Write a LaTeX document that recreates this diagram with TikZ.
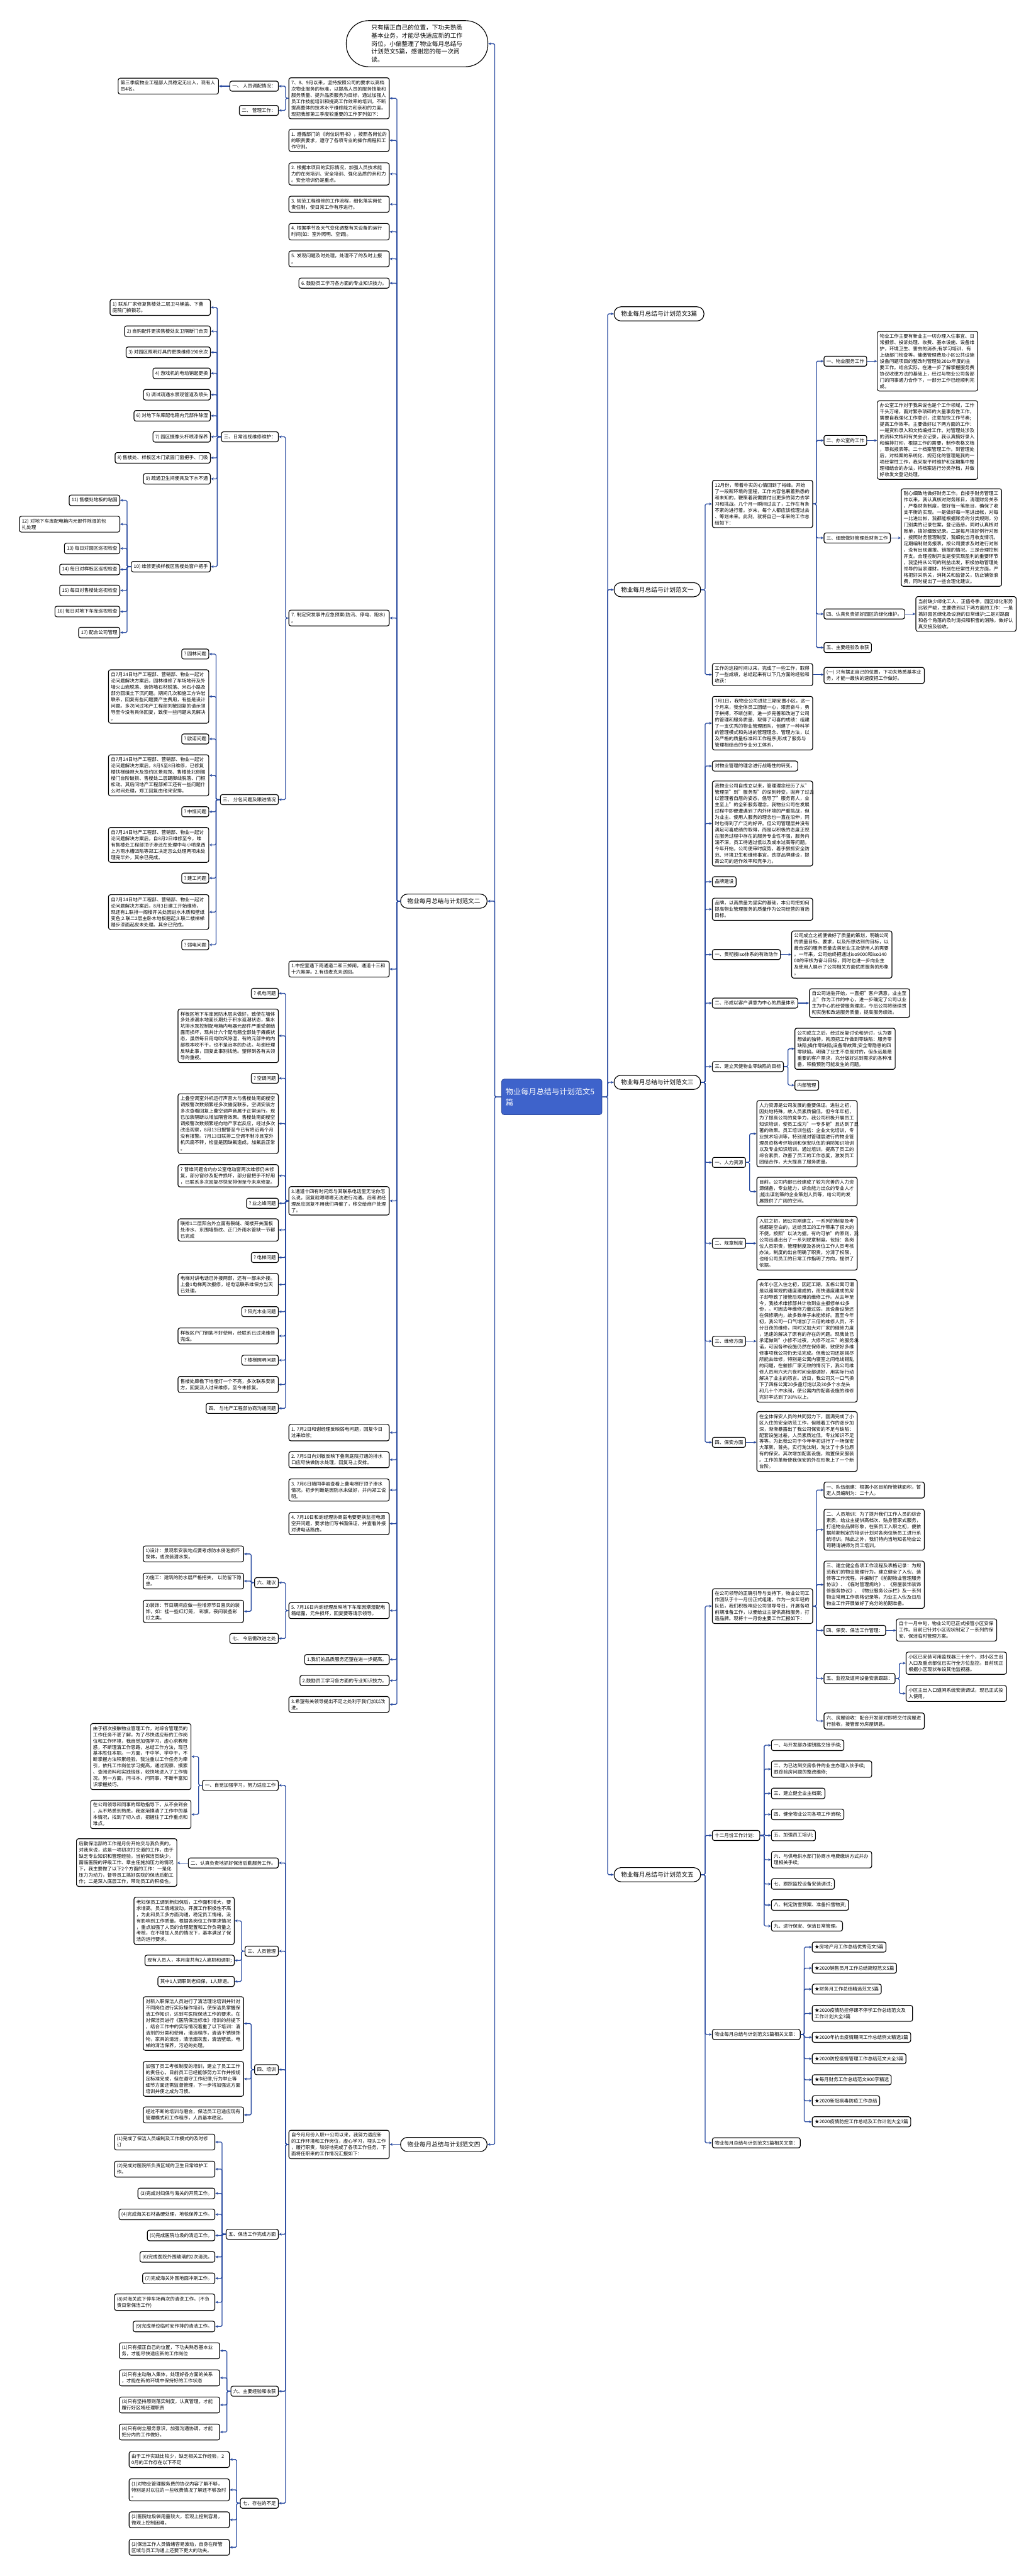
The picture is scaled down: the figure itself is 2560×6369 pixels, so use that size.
\documentclass[tikz,border=0pt]{standalone}
\usepackage{fontspec}
\setmainfont{Noto Sans CJK SC}
\usetikzlibrary{arrows.meta}
\definecolor{linkblue}{RGB}{40,74,160}
\definecolor{rootblue}{RGB}{62,99,203}
\newcommand\fsA{\fontsize{11.7pt}{15.5pt}\selectfont}
\newcommand\fsB{\fontsize{15pt}{20pt}\selectfont}
\newcommand\fsC{\fontsize{19pt}{26pt}\selectfont}
\newcommand\LinkL[3]{\draw[conn] (#1.west) -- (#3,0 |- #1.west) |- (#2.east);}
\newcommand\LinkR[3]{\draw[conn] (#1.east) -- (#3,0 |- #1.east) |- (#2.west);}
\newcommand\LinkSL[2]{\draw[conn] (#1.west) -- (#2.east |- #1.west);}
\newcommand\LinkSR[2]{\draw[conn] (#1.east) -- (#2.west |- #1.east);}
\tikzset{
 boxbase/.style={draw=black, line width=1.8pt, fill=white, rounded corners=5pt, font=\fsA, inner xsep=6pt, inner ysep=7pt},
 para/.style={boxbase, text width=236pt, align=left, inner ysep=6.5pt},
 lbl/.style={boxbase, align=left},
 pill/.style={draw=black, line width=1.8pt, fill=white, rounded corners=17pt, font=\fsB, inner xsep=17pt, inner ysep=0pt, minimum height=35pt},
 topnode/.style={draw=black, line width=1.8pt, fill=white, rounded corners=55pt, font=\fsB, align=left, text width=226pt, inner xsep=62pt, inner ysep=10pt},
 rootnode/.style={draw=rootblue!80!black, line width=1.5pt, fill=rootblue, text=white, rounded corners=6pt, font=\fsC, align=left, text width=228pt, inner xsep=10pt, inner ysep=22pt},
 conn/.style={draw=linkblue, line width=2pt, rounded corners=3pt, -{Stealth[length=7pt,width=6.5pt]}},
}
\begin{document}
\begin{tikzpicture}[x=1pt,y=-1pt]
\fill[white] (0,0) rectangle (2560,6369);
\useasboundingbox (0,0) rectangle (2560,6369);

% ---------------- root and top ----------------
\node[rootnode] (root) at (1364,2712) {物业每月总结与计划范文5\\篇};
\node[topnode] (top) at (1031,108) {只有摆正自己的位置，下功夫熟悉\\基本业务，才能尽快适应新的工作\\岗位，小偏整理了物业每月总结与\\计划范文5篇，感谢您的每一次阅\\读。};

% ---------------- left branches ----------------
\node[pill,anchor=east] (b2) at (1205,2228) {物业每月总结与计划范文二};
\node[pill,anchor=east] (b4) at (1205,5302) {物业每月总结与计划范文四};
\LinkL{root}{top}{1223}
\LinkL{root}{b2}{1223}
\LinkL{root}{b4}{1223}

% children of 范文二
\node[para,anchor=east] (a1) at (963,243) {7、8、9月以来，坚持按照公司的要求以高档\\次物业服务的标准，以提高人员的服务技能和\\服务质量、提升品质服务为目标，通过加强人\\员工作技能培训和提高工作效率的培训，不断\\提高整体的技术水平维修能力和亲和的力度。\\现把我部第三季度较重要的工作罗列如下：};
\node[para,anchor=east] (a2) at (963,347) {1.~遵循部门的《岗位说明书》，按照各岗位的\\的职责要求，遵守了各项专业的操作规程和工\\作守则。};
\node[para,anchor=east] (a3) at (963,430) {2.~根据本项目的实际情况，加强人员技术能\\力的在岗培训、安全培训、强化品质的亲和力\\。安全培训仍是重点。};
\node[para,anchor=east] (a4) at (963,505) {3.~规范工程维修的工作流程，细化落实岗位\\责任制，使日常工作有序进行。};
\node[para,anchor=east] (a5) at (963,573) {4.~根据季节及天气变化调整有关设备的运行\\时间(如：室外照明、空调)。};
\node[para,anchor=east] (a6) at (963,640) {5.~发现问题及时处理，处理不了的及时上报\\。};
\node[lbl,anchor=east] (a7) at (963,700) {6.~鼓励员工学习各方面的专业知识技力。};
\node[para,anchor=east] (a8) at (963,1528) {7.~制定突发事件应急预案(防汛、停电、跑水)\\。};
\node[para,anchor=east] (a9) at (963,2396) {1.中控室遇下雨通道二和三掉闸，通道十三和\\十六黑屏。2.有线麦克未送回。};
\node[para,anchor=east] (a10) at (963,2969) {3.通道十四有时闪烁与其联系电话里无论你怎\\么说，回复就嗯嗯嗯无法进行沟通。后和谢经\\理反应回复不用我们再催了，移交给商户处理\\了。};
\node[para,anchor=east] (a11) at (963,3542) {1.~7月2日和谢经理反映弱电问题，回复今日\\过来维修;};
\node[para,anchor=east] (a12) at (963,3609) {2.~7月5日向刘敏反映下叠南庭院打通的排水\\口应尽快做防水处理，回复马上安排。};
\node[para,anchor=east] (a13) at (963,3684) {3.~7月6日随同李岩查看上叠电梯厅顶子渗水\\情况，初步判断是因防水未做好，并向郑工说\\明。};
\node[para,anchor=east] (a14) at (963,3767) {4.~7月10日和谢经理协商弱电要更换监控电源\\空开问题，要求他们写书面保证，并查看外接\\对讲电话路由。};
\node[para,anchor=east] (a15) at (963,3982) {5.~7月16日向谢经理反映地下车库因潮湿配电\\箱结露，元件损坏，回复要等请示领导。};
\node[lbl,anchor=east] (a16) at (963,4103) {1.我们的品质服务还望在进一步提高。};
\node[lbl,anchor=east] (a17) at (963,4155) {2.鼓励员工学习各方面的专业知识技力。};
\node[para,anchor=east] (a18) at (963,4214) {3.希望有关领导提出不足之处利于我们加以改\\进。};
\foreach \c in {a1,a2,a3,a4,a5,a6,a7,a8,a9,a10,a11,a12,a13,a14,a15,a16,a17,a18}{\LinkL{b2}{\c}{981}}

% a1 children
\node[lbl,anchor=east] (c1) at (689,213) {一、~人员调配情况：};
\node[lbl,anchor=east] (c2) at (689,273) {二、~管理工作：};
\LinkL{a1}{c1}{706}
\LinkL{a1}{c2}{706}
\node[para,anchor=east] (c1a) at (541,213) {第三季度物业工程部人员稳定无出入，现有人\\员4名。};
\LinkSL{c1}{c1a}

% a8 children
\node[lbl,anchor=east] (d1) at (689,1080) {三、日常巡视维修维护：};
\node[lbl,anchor=east] (d2) at (689,1977) {三、~分包问题及跟进情况};
\LinkL{a8}{d1}{706}
\LinkL{a8}{d2}{706}

\node[para,anchor=east] (e1) at (521,760) {1)~联系厂家修复售楼处二层卫马桶盖、下叠\\庭院门换锁芯。};
\node[lbl,anchor=east] (e2) at (521,819) {2)~自购配件更换售楼处女卫隔断门合页};
\node[lbl,anchor=east] (e3) at (521,871) {3)~对园区照明灯具的更换维修190余次};
\node[lbl,anchor=east] (e4) at (521,923) {4)~游戏机的电动销起更换};
\node[lbl,anchor=east] (e5) at (521,976) {5)~调试疏通水景观管道及喷头};
\node[lbl,anchor=east] (e6) at (521,1028) {6)~对地下车库配电箱内元部件除湿};
\node[lbl,anchor=east] (e7) at (521,1080) {7)~园区摄像头杆喷漆保养};
\node[lbl,anchor=east] (e8) at (521,1132) {8)~售楼处、样板区木门紧固门窗把手、门吸};
\node[lbl,anchor=east] (e9) at (521,1184) {9)~疏通卫生间便具及下水不通};
\node[lbl,anchor=east] (e10) at (521,1401) {10)~维修更换样板区售楼处窗户把手};
\foreach \c in {e1,e2,e3,e4,e5,e6,e7,e8,e9,e10}{\LinkL{d1}{\c}{537}}

\node[lbl,anchor=east] (f1) at (297,1237) {11)~售楼处地板的粘固};
\node[para,anchor=east] (f2) at (297,1296) {12)~对地下车库配电箱内元部件除湿的包\\扎处理};
\node[lbl,anchor=east] (f3) at (297,1356) {13)~每日对园区巡视检查};
\node[lbl,anchor=east] (f4) at (297,1408) {14)~每日对样板区巡视检查};
\node[lbl,anchor=east] (f5) at (297,1460) {15)~每日对售楼处巡视检查};
\node[lbl,anchor=east] (f6) at (297,1512) {16)~每日对地下车库巡视检查};
\node[lbl,anchor=east] (f7) at (297,1564) {17)~配合公司管理};
\foreach \c in {f1,f2,f3,f4,f5,f6,f7}{\LinkL{e10}{\c}{314}}

\node[lbl,anchor=east] (g1) at (517,1617) {?~园林问题};
\node[para,anchor=east] (g2) at (517,1722) {自7月24日地产工程部、营销部、物业一起讨\\论问题解决方案后，园林维修了车场地砖及外\\墙火山岩脱落、装饰墙石材脱落、米石小路及\\部分回填土下沉问题。期间几次和施工方许岩\\联系，回复有些问题要产生费用，有些是设计\\问题。多次问过地产工程部刘敏回复的请示领\\导至今没有具体回复，致使一些问题未见解决\\。};
\node[lbl,anchor=east] (g3) at (517,1827) {?~欧诺问题};
\node[para,anchor=east] (g4) at (517,1917) {自7月24日地产工程部、营销部、物业一起讨\\论问题解决方案后，8月5至8日维修，已修复\\楼扶梯缝隙大及签约区景观泵、售楼处北侧阁\\楼门台阶破损、售楼处二层踢脚线脱落、门框\\松动。其后问地产工程部郑工还有一些问题什\\么时间处理，郑工回复由他来安排。};
\node[lbl,anchor=east] (g5) at (517,2007) {?~中恒问题};
\node[para,anchor=east] (g6) at (517,2089) {自7月24日地产工程部、营销部、物业一起讨\\论问题解决方案后，自8月2日维修至今，唯\\有售楼处工程部顶子渗还在处理中与小喷泉西\\上方雨水槽凹陷等郑工决定怎么处理两项未处\\理完毕外，其余已完成。};
\node[lbl,anchor=east] (g7) at (517,2171) {?~建工问题};
\node[para,anchor=east] (g8) at (517,2255) {自7月24日地产工程部、营销部、物业一起讨\\论问题解决方案后，8月3日建工开始维修，\\现还有1.联排一阁楼开关处因进水木质和壁纸\\变色;2.联二2层主卧木地板翘起;3.联二楼梯梯\\踏步漆面起皮未处理。其余已完成。};
\node[lbl,anchor=east] (g9) at (517,2336) {?~弱电问题};
\foreach \c in {g1,g2,g3,g4,g5,g6,g7,g8,g9}{\LinkL{d2}{\c}{534}}

% a10 children
\node[lbl,anchor=east] (h1) at (689,2456) {?~机电问题};
\node[para,anchor=east] (h2) at (689,2561) {样板区地下车库因防水层未做好，致使在墙体\\多处渗漏水地面长期处于积水返潮状态，集水\\坑排水泵控制配电箱内电器元部件严重受潮结\\露而损坏，现共计六个配电箱全部处于瘫痪状\\态，虽然每日用电吹风除湿，有的元部件的内\\部根本吹不干，也不是治本的办法。与谢经理\\反映此事，回复此事别找他。望得到各有关领\\导的重视。};
\node[lbl,anchor=east] (h3) at (689,2666) {?~空调问题};
\node[para,anchor=east] (h4) at (689,2778) {上叠空调室外机运行声音大与售楼处南阁楼空\\调报警次数频繁经多次催促联系，空调安装方\\多次查看回复上叠空调声音属于正常运行。现\\已加装隔断以增加隔音效果。售楼处南阁楼空\\调报警次数频繁经向地产李岩反应，经过多次\\改造观察，8月13日报警至今已有将近两个月\\没有报警。7月13日联排二空调不制冷且室外\\机风扇不转，检查是因缺氟造成，加氟后正常\\。};
\node[para,anchor=east] (h5) at (689,2907) {?~普维问题合约办公室电动窗两次维修仍未修\\复，部分窗纱及配件损坏，部分窗把手不好用\\，已联系多次回复尽快安排但至今未来修复。};
\node[lbl,anchor=east] (h6) at (689,2975) {?~业之峰问题};
\node[para,anchor=east] (h7) at (689,3041) {联排1二层阳台外立面有裂缝、阁楼开关面板\\处渗水、东围墙裂纹、正门外雨水管缺一节都\\已完成};
\node[lbl,anchor=east] (h8) at (689,3109) {?~电梯问题};
\node[para,anchor=east] (h9) at (689,3176) {电梯对讲电话已外接两部，还有一部未外接。\\上叠1电梯两次报修，经电话联系维保方当天\\已处理。};
\node[lbl,anchor=east] (h10) at (689,3243) {?~阳光木业问题};
\node[para,anchor=east] (h11) at (689,3303) {样板区户门钥匙不好使用，经联系已过来维修\\完成。};
\node[lbl,anchor=east] (h12) at (689,3363) {?~楼梯照明问题};
\node[para,anchor=east] (h13) at (689,3423) {售楼处廊檐下地埋灯一个不亮，多次联系安装\\方，回复派人过来维修，至今未修复。};
\node[lbl,anchor=east] (h14) at (689,3482) {四、~与地产工程部协商沟通问题};
\foreach \c in {h1,h2,h3,h4,h5,h6,h7,h8,h9,h10,h11,h12,h13,h14}{\LinkL{a10}{\c}{706}}

% a15 children
\node[lbl,anchor=east] (i1) at (689,3913) {六、建议};
\node[lbl,anchor=east] (i2) at (689,4051) {七、~今后需改进之处};
\LinkL{a15}{i1}{706}
\LinkL{a15}{i2}{706}
\node[para,anchor=east] (j1) at (603,3842) {1)设计：景观泵安装地点要考虑防水侵泡损坏\\泵体，或改装潜水泵。};
\node[para,anchor=east] (j2) at (603,3909) {2)施工：建筑的防水层严格把关，~以防留下隐\\患。};
\node[para,anchor=east] (j3) at (603,3984) {3)装饰：节日期间应做一些增添节日喜庆的装\\饰，如：挂一些红灯笼，~彩旗。夜间装些彩\\灯之类。};
\foreach \c in {j1,j2,j3}{\LinkL{i1}{\c}{621}}

% ---------------- 范文四 ----------------
\node[para,anchor=east] (k0) at (963,5302) {自今月月份入职++公司以来，我努力适应新\\的工作环境和工作岗位，虚心学习，埋头工作\\，履行职责，较好地完成了各项工作任务，下\\面将任职来的工作情况汇报如下：};
\LinkSL{b4}{k0}
\node[lbl,anchor=east] (k1) at (689,4414) {一、自觉加强学习，努力适应工作};
\node[lbl,anchor=east] (k2) at (689,4606) {二、认真负责地抓好保洁后勤服务工作。};
\node[lbl,anchor=east] (k3) at (689,4824) {三、人员管理};
\node[lbl,anchor=east] (k4) at (689,5117) {四、培训};
\node[lbl,anchor=east] (k5) at (689,5524) {五、保洁工作完成方面};
\node[lbl,anchor=east] (k6) at (689,5912) {六、主要经验和收获};
\node[lbl,anchor=east] (k7) at (689,6189) {七、存在的不足};
\foreach \c in {k1,k2,k3,k4,k5,k6,k7}{\LinkL{k0}{\c}{706}}

\node[para,anchor=east] (l1) at (473,4343) {由于初次接触物业管理工作，对综合管理员的\\工作任务不甚了解，为了尽快适应新的工作岗\\位和工作环境，我自觉加强学习，虚心求教释\\惑，不断理清工作思路，总结工作方法，现已\\基本胜任本职。一方面，干中学、学中干，不\\断掌握方法积累经验。我注重以工作任务为牵\\引，依托工作岗位学习提高，通过观察、摸索\\、查阅资料和实践锻炼，较快地进入了工作情\\况。另一方面，问书本、问同事，不断丰富知\\识掌握技巧。};
\node[para,anchor=east] (l2) at (473,4486) {在公司领导和同事的帮助指导下，从不会到会\\，从不熟悉到熟悉，我逐渐摸清了工作中的基\\本情况，找到了切入点，把握住了工作重点和\\难点。};
\LinkL{k1}{l1}{491}
\LinkL{k1}{l2}{491}
\node[para,anchor=east] (m1) at (438,4605) {后勤保洁部的工作是月份开始交与我负责的，\\对我来说，这是一项初次打交道的工作，由于\\缺乏专业知识和管理经验，当前保洁员缺少，\\面临医院的评级工作、章主任施加压力的情况\\下，我主要做了以下2个方面的工作：一是化\\压力为动力，督导员工搞好医院的保洁后勤工\\作；二是深入底层工作，带动员工的积极性。};
\LinkSL{k2}{m1}

\node[para,anchor=east] (n1) at (580,4749) {老妇保员工调到新妇保后，工作面积增大，要\\求增高。员工情绪波动，开展工作积极性不高\\，为此和员工多方面沟通，稳定员工情绪，没\\有影响到工作质量。根据各岗位工作需求情况\\，重点加强了人员的合理配置和工作负荷量之\\考核，在不增加人员的情况下，基本满足了保\\洁的运行要求。};
\node[lbl,anchor=east] (n2) at (580,4847) {现有人员人，本月度共有2人离职和调职;};
\node[lbl,anchor=east] (n3) at (580,4899) {其中1人调职到老妇保，1人辞退。};
\foreach \c in {n1,n2,n3}{\LinkL{k3}{\c}{597}}

\node[para,anchor=east] (o1) at (603,5003) {对新入职保洁人员进行了清洁理论培训并针对\\不同岗位进行实际操作培训，使保洁员掌握保\\洁工作知识，达到写医院保洁工作的要求。在\\对保洁员进行《医院保洁标准》培训的前提下\\，结合工作中的实际情况着重了以下培训：清\\洁剂的分类和使用，清洁程序，清洁不锈钢饰\\物，家具的清洁，清洁烟灰盅，清洁壁纸，电\\梯的清洁保养，污迹的处理。};
\node[para,anchor=east] (o2) at (603,5140) {加强了员工考核制度的培训，建立了员工工作\\的责任心，目前员工已经能够努力工作并按规\\定标准完成，但在遵守工作纪律,行为举止等\\细节方面还需监督管理，下一步将加强这方面\\培训并使之成为习惯。};
\node[para,anchor=east] (o3) at (603,5229) {经过不断的培训与磨合，保洁员工已适应现有\\管理模式和工作程序，人员基本稳定。};
\foreach \c in {o1,o2,o3}{\LinkL{k4}{\c}{621}}

\node[para,anchor=east] (p1) at (532,5296) {(1)完成了保洁人员编制及工作模式的及时修\\订};
\node[para,anchor=east] (p2) at (532,5363) {(2)完成对医院所负责区域的卫生日常维护工\\作。};
\node[lbl,anchor=east] (p3) at (532,5423) {(3)完成对妇保与海关的开荒工作。};
\node[lbl,anchor=east] (p4) at (532,5475) {(4)完成海关石材晶硬处理，地毯保养工作。};
\node[lbl,anchor=east] (p5) at (532,5527) {(5)完成医院垃圾的清运工作。};
\node[lbl,anchor=east] (p6) at (532,5580) {(6)完成医院外围玻璃的2次清洗。};
\node[lbl,anchor=east] (p7) at (532,5633) {(7)完成海关外围地面冲刷工作。};
\node[para,anchor=east] (p8) at (532,5692) {(8)对海关底下停车场两次的清洗工作。(不负\\责日常保洁工作)};
\node[lbl,anchor=east] (p9) at (532,5752) {(9)完成单位临时安作排的清洁工作。};
\foreach \c in {p1,p2,p3,p4,p5,p6,p7,p8,p9}{\LinkL{k5}{\c}{549}}

\node[para,anchor=east] (q1) at (544,5812) {(1)只有摆正自己的位置，下功夫熟悉基本业\\务，才能尽快适应新的工作岗位};
\node[para,anchor=east] (q2) at (544,5879) {(2)只有主动融入集体，处理好各方面的关系\\，才能在新的环境中保持好的工作状态};
\node[para,anchor=east] (q3) at (544,5946) {(3)只有坚持原则落实制度，认真管理，才能\\履行好区域经理职责};
\node[para,anchor=east] (q4) at (544,6013) {(4)只有树立服务意识，加强沟通协调，才能\\把分内的工作做好。};
\foreach \c in {q1,q2,q3,q4}{\LinkL{k6}{\c}{561}}

\node[para,anchor=east] (r1) at (568,6081) {由于工作实践比较少，缺乏相关工作经验，2\\0月的工作存在以下不足};
\node[para,anchor=east] (r2) at (568,6156) {(1)对物业管理服务费的协议内容了解不够，\\特别是对以往的一些收费情况了解还不够及时\\。};
\node[para,anchor=east] (r3) at (568,6230) {(2)医院垃圾袋用量较大，宏观上控制容易，\\微观上控制困难。};
\node[para,anchor=east] (r4) at (568,6298) {(3)保洁工作人员情绪容易波动，自身在所管\\区域与员工沟通上还要下更大的功夫。};
\foreach \c in {r1,r2,r3,r4}{\LinkL{k7}{\c}{585}}

% ---------------- right branches ----------------
\node[pill,anchor=west] (s0) at (1517,776) {物业每月总结与计划范文3篇};
\node[pill,anchor=west] (s1) at (1517,1458) {物业每月总结与计划范文一};
\node[pill,anchor=west] (s3) at (1517,2676) {物业每月总结与计划范文三};
\node[pill,anchor=west] (s5) at (1517,4635) {物业每月总结与计划范文五};
\foreach \c in {s0,s1,s3,s5}{\LinkR{root}{\c}{1502}}

% 范文一
\node[para,anchor=west] (t1) at (1760,1246) {12月份，带着朴实的心情回到了裕峰。开始\\了一段新环境的里程，工作内容包裹着熟悉的\\和未知的，鞭策着我需要付出更多的努力去学\\习和挑战。几个月一瞬间过去了，工作在有条\\不紊的进行着。岁末，每个人都应该梳理过去\\、筹划未来。此刻，就将自己一年来的工作总\\结如下：};
\node[para,anchor=west] (t2) at (1760,1668) {工作的这段时间以来，完成了一些工作，取得\\了一些成绩，总结起来有以下几方面的经验和\\收获：};
\LinkR{s1}{t1}{1743}
\LinkR{s1}{t2}{1743}
\node[lbl,anchor=west] (u1) at (2036,893) {一、物业服务工作};
\node[lbl,anchor=west] (u2) at (2036,1089) {二、办公室的工作};
\node[lbl,anchor=west] (u3) at (2036,1330) {三、细致做好管理处财务工作};
\node[lbl,anchor=west] (u4) at (2036,1518) {四、认真负责抓好园区的绿化维护。};
\node[lbl,anchor=west] (u5) at (2036,1601) {五、主要经验及收获};
\foreach \c in {u1,u2,u3,u4,u5}{\LinkR{t1}{\c}{2018}}
\node[para,anchor=west] (u1c) at (2168,893) {物业工作主要有新业主一切办理入住事宜、日\\常报修、投诉处理、收费、基本设施、设备维\\护，环境卫生、害虫的消杀;有学习培训、有\\上级部门检查等。催缴管理费及小区公共设施\\设备问题项目的整改时管理处201x年度的主\\要工作。结合实际，在进一步了解掌握服务费\\协议收缴方法的基础上，经过与物业公司各部\\门的同事通力合作下，一部分工作已经顺利完\\成。};
\node[para,anchor=west] (u2c) at (2168,1088) {办公室工作对于我来说也是个工作领域，工作\\千头万绪，面对繁杂琐碎的大量事务性工作，\\需要自我强化工作意识，注意加快工作节奏;\\提高工作效率。主要做好以下两方面的工作：\\一是资料录入和文档编排工作。对管理处涉及\\的资料文档和有关会议记录，我认真搞好录入\\和编排打印，根据工作的需要，制作表格文档\\，草拟报表等。二十档案管理工作。到管理处\\后，对档案的系统化、规范化的管理是我的一\\项经常性工作，我采取平时维护和定期集中整\\理相结合的办法，将档案进行分类存档，并做\\好收发文登记处理。};
\node[para,anchor=west] (u3c) at (2227,1329) {耐心细致地做好财务工作。自接手财务管理工\\作以来，我认真核对财务账目，清理财务关系\\，严格财务制度，做好每一笔账目，确保了收\\支平衡的实现。一是做好每一笔进出帐，对每\\一比进出帐，我都能根据账务的分类规则，分\\门别类的记录在案，登记造册。同时认真核对\\账单，搞好细致记录。二是每月搞好例行对账\\。按照财务管理制度，我细化当月收支情况，\\定期编制财务报表，按公司要求及时进行对账\\，没有出现漏报、错报的情况。三是合理控制\\开支。合理控制开支是使实现盈利的重要环节\\，我坚持从公司的利益出发，积极协助管理处\\领导的当家理财。特别在经常性开支方面，严\\格把好采购关，消耗关和监督关，防止铺张浪\\费，同时提出了一些合理化建议。};
\node[para,anchor=west] (u4c) at (2263,1518) {当前缺少绿化工人，正值冬季，园区绿化形势\\比较严峻，主要做到以下两方面的工作：一是\\搞好园区绿化及设施的日常维护;二是对路面\\和各个角落的及时清扫和积雪的消除，做好认\\真交接及验收。};
\LinkSR{u1}{u1c}
\LinkSR{u2}{u2c}
\LinkSR{u3}{u3c}
\LinkSR{u4}{u4c}
\node[para,anchor=west] (v1) at (2036,1670) {(一)~只有摆正自己的位置，下功夫熟悉基本业\\务，才能一最快的速度把工作做好。};
\LinkSR{t2}{v1}

% 范文三
\node[para,anchor=west] (w1) at (1760,1788) {7月1日，我物业公司进驻三期安置小区，这一\\个月来，我全体员工团结一心，艰苦奋斗，勇\\于拼搏，不断创新，进一步完善和改进了公司\\的管理和服务质量，取得了可喜的成绩：组建\\了一支优秀的物业管理团队，创建了一种科学\\的管理模式和先进的管理理念、管理方法，以\\及严格的质量标准和工作程序;形成了服务与\\管理相结合的专业分工体系。};
\node[lbl,anchor=west] (w2) at (1760,1894) {对物业管理的理念进行战略性的转变。};
\node[para,anchor=west] (w3) at (1760,2036) {我物业公司自成立以来，管理理念经历了从"\\管理型"到"服务型"的深刻转变，抛弃了过去\\以管理者自居的姿态，倡导了"服务育人，业\\主至上"的全新服务理念。我物业公司在发展\\过程中即便遭遇到了内外环境的严重挑战，但\\为业主、使用人服务的理念也一直在沿伸，同\\时也得到了广泛的好评。但公司管理层并没有\\满足可喜成绩的取得，而是以积极的态度正视\\在服务过程中存在的服务专业性不强，服务内\\涵不深，员工待遇过低以及成本过高等问题。\\今年开始，公司便审时度势，着手狠抓安全防\\范、环境卫生和维修事宜，劲拼品牌建设，提\\高公司的运作效率和竞争力。};
\node[lbl,anchor=west] (w4) at (1760,2180) {品牌建设};
\node[para,anchor=west] (w5) at (1760,2248) {品牌，以高质量为坚实的基础，本公司把如何\\提高物业管理服务的质量作为公司经营的首选\\目标。};
\node[lbl,anchor=west] (w6) at (1760,2360) {一、贯彻按iso体系的有效动作};
\node[lbl,anchor=west] (w7) at (1760,2480) {二、形成以客户满意为中心的质量体系};
\node[lbl,anchor=west] (w8) at (1760,2637) {三、建立天健物业零缺陷的目标};
\node[lbl,anchor=west] (w9) at (1760,2874) {一、人力资源};
\node[lbl,anchor=west] (w10) at (1760,3074) {二、规章制度};
\node[lbl,anchor=west] (w11) at (1760,3316) {三、维修方面};
\node[lbl,anchor=west] (w12) at (1760,3566) {四、保安方面};
\foreach \c in {w1,w2,w3,w4,w5,w6,w7,w8,w9,w10,w11,w12}{\LinkR{s3}{\c}{1743}}
\node[para,anchor=west] (w6c) at (1956,2360) {公司成立之初便做好了质量的策划，明确公司\\的质量目标、要求，以及所想达到的目标，以\\最合适的服务质量去满足业主及使用人的需要\\。一年来，公司始终把通过iso9000和iso140\\00的审核为奋斗目标，同时也进一步向业主\\及使用人展示了公司相关方面优质服务的形象\\。};
\LinkSR{w6}{w6c}
\node[para,anchor=west] (w7c) at (2000,2480) {自公司进驻开始，一直把"客户满意，业主至\\上"作为工作的中心，进一步确定了公司以业\\主为中心的经营服务理念，今后公司将继续贯\\彻实施和改进服务质量，提高服务绩效。};
\LinkSR{w7}{w7c}
\node[para,anchor=west] (w8a) at (1964,2593) {公司成立之后，经过反复讨论和研讨，认为要\\想做的独特，就须把工作做到零缺陷：服务零\\缺陷;操作零缺陷;设备零故障;安全零隐患的四\\零缺陷。明确了业主不总是对的，但永远是最\\重要的客户需求，充分做好达到需求的各种准\\备，积极预防可能发生的问题。};
\node[lbl,anchor=west] (w8b) at (1964,2683) {内部管理};
\LinkR{w8}{w8a}{1948}
\LinkR{w8}{w8b}{1948}
\node[para,anchor=west] (w9a) at (1870,2803) {人力资源是公司发展的重要保证。进驻之初，\\因处地特殊，故人员素质偏低。但今年年初，\\为了提高公司的竞争力，我公司积极开展员工\\知识培训，使员工成为"一专多能"且达到了显\\著的效果。员工培训包括：企业文化培训，专\\业技术培训等，特别是对管理层进行的物业管\\理员资格考评培训和保安队伍的消防知识培训\\以及专业知识培训。通过培训，提高了员工的\\综合素质，改善了员工的工作态度，激发员工\\团结合作，大大提高了服务质量。};
\node[para,anchor=west] (w9b) at (1870,2946) {目前，公司内部已经建成了较为完善的人力资\\源储备，专业能力，综合能力出众的专业人才\\;能出谋划策的企业策划人员等，给公司的发\\展提供了广阔的空间。};
\LinkR{w9}{w9a}{1853}
\LinkR{w9}{w9b}{1853}
\node[para,anchor=west] (w10c) at (1870,3074) {入驻之初，因公司刚建立，一系列的制度及考\\核都是空白的，这给员工的工作带来了很大的\\不便。按照"以法为据，有约可依"的原则，我\\公司迅速出台了一系列规章制度。包括：各岗\\位人员职责，管理制度及各岗位工作人员考核\\办法。制度的出台明确了职责，分清了权限，\\也给公司员工的日常工作指明了方向，提供了\\依据。};
\LinkSR{w10}{w10c}
\node[para,anchor=west] (w11c) at (1870,3315) {去年小区入住之初，因赶工期，五栋公寓可谓\\是以超常规的速度建成的，而快速度建成的房\\子却导致了接管后艰难的维修工作。从去年至\\今，我技术维修部共计收到业主报修单42多\\份，。可因去年维修力量过弱，且设备设施还\\在保修期内，故多数单子未能修好。直至今年\\初，我公司一口气增加了三倍的维修人员，不\\分日夜的维修，同时又加大对厂家的催修力度\\，迅速的解决了原有的存在的问题。现我处已\\承诺做到"小修不过夜，大修不过三"的服务承\\诺，可因各种设施仍然在保修期，致使好多维\\修事项我公司仍无法完成。但我公司还是竭尽\\所能去维修，特别是公寓内寝室之间电线错乱\\的问题，在催修厂家无效的情况下，我公司维\\修人员用六天六夜时间全部调好，用实际行动\\解决了业主的怨言。近日，我公司又一口气换\\下了四栋公寓20多盏灯炮以及30多个水龙头\\和几十个冲水阀，使公寓内的配套设施的维修\\完好率达到了98\%以上。};
\LinkSR{w11}{w11c}
\node[para,anchor=west] (w12c) at (1870,3564) {在全体保安人员的共同努力下，圆满完成了小\\区入住的安全防范工作，但随着工作的逐步加\\深，渐渐暴露出了我公司保安的不足与缺陷：\\配套设施过差，人员素质过低，专业知识不足\\等等。为此我公司于今年年初进行了一场保安\\大革新。首先，实行淘汰制，淘汰了十多位原\\有的保安。其次增加配套设施，购置保安服装\\。工作的革新使我保安的外在形象上了一个新\\台阶。};
\LinkSR{w12}{w12c}

% 范文五
\node[para,anchor=west] (x1) at (1760,3971) {在公司领导的正确引导与支持下，物业公司工\\作团队于十一月份正式组建。作为一支年轻的\\队伍，我们积极响应公司领导号召，开展各项\\前期准备工作，以便给业主提供高档服务，打\\造品牌。现将十一月份主要工作汇报如下：};
\node[lbl,anchor=west] (x2) at (1760,4538) {十二月份工作计划：};
\node[lbl,anchor=west] (x3) at (1760,5030) {物业每月总结与计划范文5篇相关文章：};
\node[lbl,anchor=west] (x4) at (1760,5298) {物业每月总结与计划范文5篇相关文章：};
\foreach \c in {x1,x2,x3,x4}{\LinkR{s5}{\c}{1743}}

\node[para,anchor=west] (y1) at (2036,3684) {一、队伍组建：根据小区目前所管辖面积，暂\\定人员编制为：二十人。};
\node[para,anchor=west] (y2) at (2036,3782) {二、人员培训：为了提升我们工作人员的综合\\素质，给业主提供高档次、贴身管家式服务，\\打造物业品牌形象，在新员工入职之初，便依\\据前期制定的培训计划对各岗位新员工进行系\\统培训。除此之外，我们特向当地知名物业公\\司聘请讲师为员工培训。};
\node[para,anchor=west] (y3) at (2036,3918) {三、建立健全各项工作流程及表格记录：为规\\范我们的物业管理行为，建立健全了入伙、装\\修等工作流程，并编制了《前期物业管理服务\\协议》、《临时管理规约》、《房屋装饰装饰\\修服务协议》、《物业服务公示栏》及一系列\\物业常用工作表格记录等。为业主入伙及日后\\物业工作开展做好了充分的前期准备。};
\node[lbl,anchor=west] (y4) at (2036,4031) {四、保安、保洁工作管理：};
\node[lbl,anchor=west] (y5) at (2036,4150) {五、监控及道闸设备安装跟踪：};
\node[para,anchor=west] (y6) at (2036,4255) {六、房屋验收：配合开发部对即将交付房屋进\\行验收，接管部分房屋钥匙。};
\foreach \c in {y1,y2,y3,y4,y5,y6}{\LinkR{x1}{\c}{2018}}
\node[para,anchor=west] (y4c) at (2215,4030) {自十一月中旬，物业公司已正式接管小区安保\\工作。目前已针对小区现状制定了一系列的保\\安、保洁临时管理方案。};
\LinkSR{y4}{y4c}
\node[para,anchor=west] (y5a) at (2239,4112) {小区已安装可用监视器三十余个，对小区主出\\入口及重点部位已实行全方位监控。目前现正\\根据小区现状布设其他监视器。};
\node[para,anchor=west] (y5b) at (2239,4187) {小区主出入口道闸系统安装调试，现已正式投\\入使用。};
\LinkR{y5}{y5a}{2223}
\LinkR{y5}{y5b}{2223}

\node[lbl,anchor=west] (z1) at (1906,4315) {一、与开发部办理钥匙交接手续;};
\node[para,anchor=west] (z2) at (1906,4374) {二、为已达到交房条件的业主办理入伙手续;\\跟踪验房问题的整改维修;};
\node[lbl,anchor=west] (z3) at (1906,4434) {三、建立健全业主档案;};
\node[lbl,anchor=west] (z4) at (1906,4486) {四、健全物业公司各项工作流程;};
\node[lbl,anchor=west] (z5) at (1906,4538) {五、加强员工培训;};
\node[para,anchor=west] (z6) at (1906,4598) {六、与供电供水部门协商水电费缴纳方式并办\\理相关手续;};
\node[lbl,anchor=west] (z7) at (1906,4658) {七、跟踪监控设备安装调试;};
\node[lbl,anchor=west] (z8) at (1906,4710) {八、制定防雪预案、准备扫雪物资;};
\node[lbl,anchor=west] (z9) at (1906,4762) {九、进行保安、保洁日常管理。};
\foreach \c in {z1,z2,z3,z4,z5,z6,z7,z8,z9}{\LinkR{x2}{\c}{1889}}

\node[lbl,anchor=west] (st1) at (2007,4814) {★房地产月工作总结优秀范文5篇};
\node[lbl,anchor=west] (st2) at (2007,4866) {★2020销售员月工作总结简短范文5篇};
\node[lbl,anchor=west] (st3) at (2007,4918) {★财务月工作总结精选范文5篇};
\node[para,anchor=west] (st4) at (2007,4978) {★2020疫情防控停课不停学工作总结范文及\\工作计划大全3篇};
\node[lbl,anchor=west] (st5) at (2007,5037) {★2020年抗击疫情期间工作总结例文精选3篇};
\node[lbl,anchor=west] (st6) at (2007,5090) {★2020防控疫情管理工作总结范文大全3篇};
\node[lbl,anchor=west] (st7) at (2007,5142) {★每月财务工作总结范文800字精选};
\node[lbl,anchor=west] (st8) at (2007,5194) {★2020新冠病毒防疫工作总结};
\node[lbl,anchor=west] (st9) at (2007,5246) {★2020疫情防控工作总结及工作计划大全3篇};
\foreach \c in {st1,st2,st3,st4,st5,st6,st7,st8,st9}{\LinkR{x3}{\c}{1988}}

\end{tikzpicture}
\end{document}
